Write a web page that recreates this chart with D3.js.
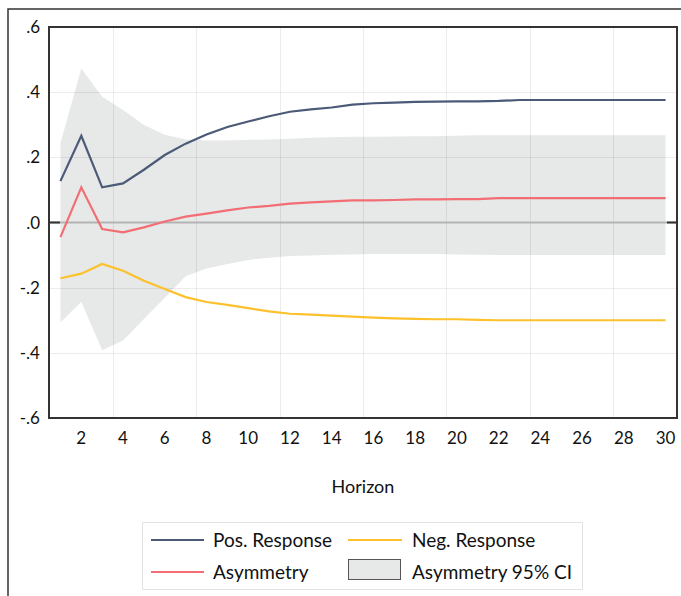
<!DOCTYPE html>
<html><head><meta charset="utf-8">
<script src="https://cdn.jsdelivr.net/npm/d3@7"></script>
<style>html,body{margin:0;padding:0;background:#fff;}svg{display:block;}</style>
</head><body>
<svg id="c" width="681" height="596"></svg>
<script>
const horizon = [1,2,3,4,5,6,7,8,9,10,11,12,13,14,15,16,17,18,19,20,21,22,23,24,25,26,27,28,29,30];
const posResponse = [0.127,0.266,0.108,0.120,0.162,0.207,0.242,0.270,0.293,0.310,0.326,0.340,0.347,0.353,0.362,0.366,0.368,0.370,0.371,0.372,0.372,0.373,0.376,0.376,0.376,0.376,0.376,0.376,0.376,0.376];
const negResponse = [-0.171,-0.157,-0.127,-0.148,-0.179,-0.204,-0.229,-0.244,-0.253,-0.263,-0.273,-0.280,-0.283,-0.286,-0.289,-0.292,-0.294,-0.296,-0.297,-0.297,-0.299,-0.300,-0.300,-0.300,-0.300,-0.300,-0.300,-0.300,-0.300,-0.300];
const asymmetry = [-0.045,0.108,-0.020,-0.030,-0.015,0.003,0.018,0.027,0.037,0.046,0.051,0.058,0.062,0.065,0.068,0.068,0.069,0.071,0.071,0.072,0.072,0.075,0.075,0.075,0.075,0.075,0.075,0.075,0.075,0.075];
const ciUpper = [0.243,0.473,0.386,0.345,0.299,0.269,0.255,0.252,0.252,0.254,0.255,0.257,0.260,0.262,0.263,0.263,0.264,0.265,0.265,0.266,0.268,0.268,0.268,0.268,0.268,0.268,0.268,0.268,0.268,0.268];
const ciLower = [-0.307,-0.243,-0.392,-0.362,-0.296,-0.231,-0.165,-0.141,-0.127,-0.115,-0.108,-0.103,-0.101,-0.099,-0.098,-0.097,-0.097,-0.097,-0.097,-0.098,-0.099,-0.100,-0.100,-0.100,-0.100,-0.100,-0.100,-0.100,-0.100,-0.100];
const yTicks = [0.6,0.4,0.2,0,-0.2,-0.4,-0.6];
const yTickLabels = [".6",".4",".2",".0","-.2","-.4","-.6"];
const xTicks = [2,4,6,8,10,12,14,16,18,20,22,24,26,28,30];
const xGrid = [3.5,7.5,11.5,15.5,19.5,23.5,27.5];
const legendItems = ["Pos. Response","Neg. Response","Asymmetry","Asymmetry 95% CI"];

const colPos = "#4b5b77", colNeg = "#fcc12b", colAsym = "#f26e74", colCI = "#e7e8e8";
const FONT = "Lato, 'Open Sans', sans-serif";

const svg = d3.select("#c");
const L = 49, R = 677, T = 27, B = 418;
const x = d3.scaleLinear().domain([0.5, 30.5]).range([50, 676]);
const y = d3.scaleLinear().domain([-0.6, 0.6]).range([B, T]);

// outer frame
svg.append("path").attr("d", `M8,596 L8,9 L681,9`).attr("fill","none").attr("stroke","#333").attr("stroke-width",1.5);

const data = horizon.map((h,i)=>({h, pos:posResponse[i], neg:negResponse[i], asym:asymmetry[i], lo:ciLower[i], hi:ciUpper[i]}));

// CI band
svg.append("path").datum(data)
  .attr("d", d3.area().x(d=>x(d.h)).y0(d=>y(d.lo)).y1(d=>y(d.hi)))
  .attr("fill", colCI);

// gridlines
const grid = svg.append("g").attr("stroke","rgba(0,0,0,0.075)").attr("stroke-width",1);
grid.selectAll("line.v").data(xGrid).join("line")
  .attr("x1",d=>Math.round(x(d))+0.5).attr("x2",d=>Math.round(x(d))+0.5).attr("y1",T).attr("y2",B);
grid.selectAll("line.h").data(yTicks.filter(v=>Math.abs(v)>1e-9 && Math.abs(v)<0.59)).join("line")
  .attr("x1",L).attr("x2",R).attr("y1",d=>Math.round(y(d))+0.5).attr("y2",d=>Math.round(y(d))+0.5);

// zero line
svg.append("line").attr("x1",L).attr("x2",R).attr("y1",y(0)).attr("y2",y(0)).attr("stroke","#b3b3b3").attr("stroke-width",2);
svg.append("line").attr("x1",L).attr("x2",L+11).attr("y1",y(0)).attr("y2",y(0)).attr("stroke","#333").attr("stroke-width",2);
svg.append("line").attr("x1",R-10).attr("x2",R).attr("y1",y(0)).attr("y2",y(0)).attr("stroke","#333").attr("stroke-width",2);

// series lines
const line = key => d3.line().x(d=>x(d.h)).y(d=>y(d[key]));
[["pos",colPos],["neg",colNeg],["asym",colAsym]].forEach(([k,c])=>{
  svg.append("path").datum(data).attr("d", line(k)).attr("fill","none").attr("stroke",c).attr("stroke-width",2.2).attr("stroke-linejoin","miter");
});

// plot frame
svg.append("rect").attr("x",L).attr("y",T).attr("width",R-L).attr("height",B-T).attr("fill","none").attr("stroke","#333").attr("stroke-width",2);

// y labels
svg.append("g").selectAll("text").data(yTicks).join("text")
  .attr("x",40).attr("y",d=>y(d)).attr("dy","0.36em").attr("text-anchor","end")
  .attr("font-family",FONT).attr("font-size",17).attr("fill","#111")
  .text((d,i)=>yTickLabels[i]);

// x labels
svg.append("g").selectAll("text").data(xTicks).join("text")
  .attr("x",d=>x(d)).attr("y",444).attr("text-anchor","middle")
  .attr("font-family",FONT).attr("font-size",17).attr("fill","#111")
  .text(d=>d);

svg.append("text").attr("x",363).attr("y",493).attr("text-anchor","middle")
  .attr("font-family",FONT).attr("font-size",18).attr("fill","#111").text("Horizon");

// legend
const lg = svg.append("g");
lg.append("rect").attr("x",142.5).attr("y",522.5).attr("width",440).attr("height",67).attr("fill","#fff").attr("stroke","#e3e3e3");
const rows = [540, 572];
lg.append("line").attr("x1",151).attr("x2",204).attr("y1",rows[0]).attr("y2",rows[0]).attr("stroke",colPos).attr("stroke-width",2.2);
lg.append("line").attr("x1",348).attr("x2",402).attr("y1",rows[0]).attr("y2",rows[0]).attr("stroke",colNeg).attr("stroke-width",2.2);
lg.append("line").attr("x1",151).attr("x2",204).attr("y1",rows[1]).attr("y2",rows[1]).attr("stroke",colAsym).attr("stroke-width",2.2);
lg.append("rect").attr("x",348.5).attr("y",559.5).attr("width",52).attr("height",20).attr("fill",colCI).attr("stroke","#555").attr("stroke-width",1);
const lpos = [[213,rows[0]],[412,rows[0]],[213,rows[1]],[412,rows[1]]];
lg.selectAll("text").data(legendItems).join("text")
  .attr("x",(d,i)=>lpos[i][0]).attr("y",(d,i)=>lpos[i][1]).attr("dy","0.35em")
  .attr("font-family",FONT).attr("font-size",19).attr("fill","#111").text(d=>d);
</script>
</body></html>
